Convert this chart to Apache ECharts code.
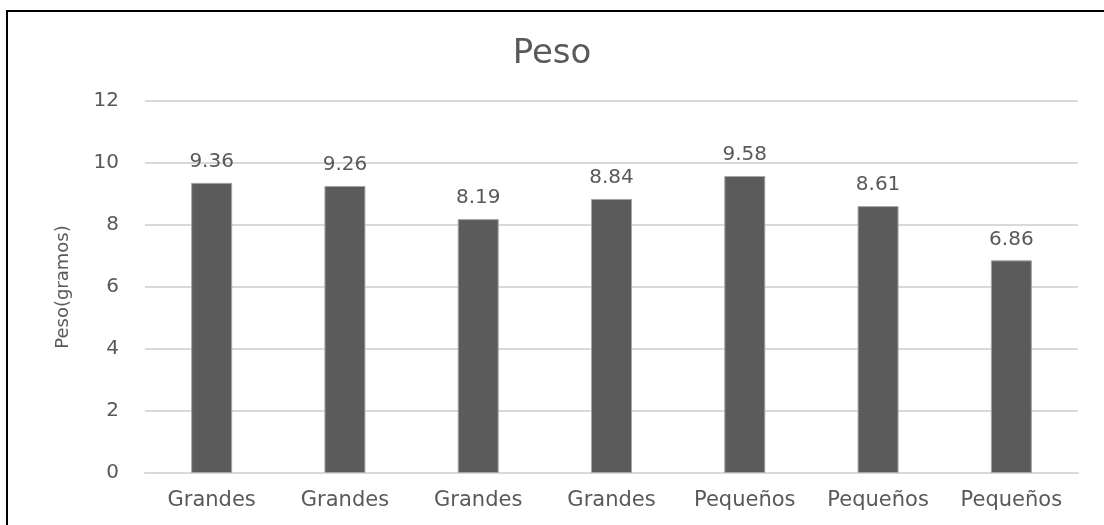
<!DOCTYPE html>
<html>
<head>
<meta charset="utf-8">
<script src="https://cdn.jsdelivr.net/npm/echarts@6/dist/echarts.min.js"></script>
<style>
  html, body { margin: 0; padding: 0; background: #ffffff; }
  #chart { width: 1104px; height: 525px; }
</style>
</head>
<body>
<div id="chart"></div>
<script>
// Weight per sample (grams)
const categories = ['Grandes', 'Grandes', 'Grandes', 'Grandes', 'Pequeños', 'Pequeños', 'Pequeños'];
const pesos = [9.36, 9.26, 8.19, 8.84, 9.58, 8.61, 6.86];
const yTicks = { min: 0, max: 12, interval: 2 };

const textColor = '#595959';
const fontFamily = 'DejaVu Sans, sans-serif';

const chart = echarts.init(document.getElementById('chart'), null, { renderer: 'canvas' });

chart.setOption({
  backgroundColor: '#ffffff',
  animation: false,
  title: {
    text: 'Peso',
    left: 'center',
    top: 32,
    textStyle: { color: textColor, fontSize: 34, fontWeight: 'normal', fontFamily }
  },
  grid: { left: 145, right: 26, top: 101, bottom: 52, containLabel: false },
  xAxis: {
    type: 'category',
    data: categories,
    axisLine: { show: true, lineStyle: { color: '#d9d9d9', width: 2 } },
    axisTick: { show: false },
    axisLabel: { color: textColor, fontSize: 21, fontFamily, margin: 17, interval: 0 }
  },
  yAxis: {
    type: 'value',
    min: yTicks.min,
    max: yTicks.max,
    interval: yTicks.interval,
    name: 'Peso(gramos)',
    nameLocation: 'middle',
    nameGap: 73,
    nameRotate: 90,
    nameTextStyle: { color: textColor, fontSize: 18, fontFamily },
    axisLine: { show: false },
    axisTick: { show: false },
    splitLine: { lineStyle: { color: '#d9d9d9', width: 2 } },
    axisLabel: { color: textColor, fontSize: 20, fontFamily, margin: 26 }
  },
  series: [{
    type: 'bar',
    data: pesos,
    barWidth: 41,
    itemStyle: { color: '#5b5b5b', borderColor: '#a6a6a6', borderWidth: 1 },
    label: {
      show: true,
      position: 'top',
      distance: 11,
      color: textColor,
      fontSize: 20,
      fontFamily,
      formatter: p => p.value.toFixed(2)
    }
  }],
  graphic: [
    { type: 'line', shape: { x1: 6, y1: 11, x2: 1104, y2: 11 }, style: { stroke: '#000000', lineWidth: 2 } },
    { type: 'line', shape: { x1: 7, y1: 10, x2: 7, y2: 525 }, style: { stroke: '#000000', lineWidth: 2 } }
  ]
});
</script>
</body>
</html>
